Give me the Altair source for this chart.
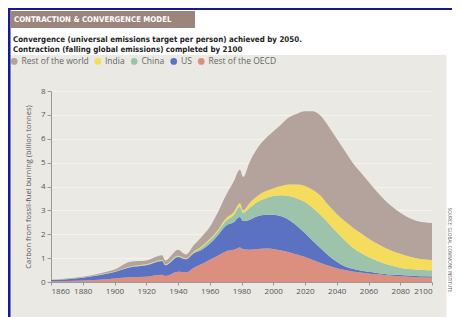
import altair as alt
import pandas as pd

years = [1860,1870,1880,1890,1900,1910,1920,1930,1932,1940,1945,1950,1955,1960,1965,1970,1975,1979,1981,1985,
         1990,1995,2000,2005,2010,2015,2020,2025,2030,2035,2040,2045,2050,2055,2060,2065,2070,2075,2080,2085,2090,2095,2100]
rest_oecd = [.03,.04,.06,.09,.15,.20,.22,.30,.25,.43,.40,.60,.75,.93,1.10,1.28,1.35,1.45,1.38,1.35,
             1.38,1.40,1.38,1.32,1.25,1.15,1.05,.92,.80,.68,.58,.50,.44,.40,.36,.32,.29,.26,.24,.22,.20,.19,.18]
us = [.05,.08,.12,.19,.27,.42,.48,.58,.45,.62,.55,.60,.60,.67,.85,1.07,1.15,1.27,1.17,1.25,
      1.37,1.42,1.44,1.43,1.35,1.20,1.00,.80,.60,.42,.27,.16,.11,.08,.07,.06,.05,.05,.05,.05,.05,.05,.05]
china = [.005,.005,.005,.01,.01,.02,.02,.02,.02,.03,.02,.05,.10,.15,.15,.20,.30,.43,.35,.50,
         .60,.68,.78,.88,1.00,1.15,1.30,1.38,1.40,1.35,1.23,1.09,.90,.74,.62,.52,.44,.37,.31,.28,.27,.26,.26]
india = [.005,.005,.005,.01,.01,.01,.02,.02,.02,.02,.02,.03,.05,.05,.07,.10,.12,.15,.10,.20,
         .25,.30,.32,.39,.48,.58,.67,.75,.80,.75,.77,.80,.83,.83,.77,.72,.67,.62,.58,.53,.48,.45,.43]
rest_world = [.01,.02,.03,.05,.08,.20,.16,.20,.16,.25,.16,.27,.40,.50,.73,.95,1.28,1.40,1.40,1.70,
              2.00,2.20,2.38,2.58,2.82,2.97,3.13,3.30,3.35,3.30,3.15,2.95,2.72,2.55,2.38,2.18,2.00,1.85,1.72,1.62,1.57,1.55,1.55]

legend_order = ["Rest of the world", "India", "China", "US", "Rest of the OECD"]
colors = ["#b4a39c", "#f6dc5c", "#9dc4aa", "#5b72c2", "#dc8f7f"]
series = {"Rest of the OECD": rest_oecd, "US": us, "China": china, "India": india, "Rest of the world": rest_world}
stack_rank = {"Rest of the OECD": 1, "US": 2, "China": 3, "India": 4, "Rest of the world": 5}

x_ticks = list(range(1860, 2101, 20))
y_ticks = list(range(0, 9))

title_text = "CONTRACTION & CONVERGENCE MODEL"
subtitle_lines = ["Convergence (universal emissions target per person) achieved by 2050.",
                  "Contraction (falling global emissions) completed by 2100"]
y_title = "Carbon from fossil-fuel burning (billion tonnes)"
source_text = "SOURCE: GLOBAL COMMONS INSTITUTE"

rows = []
for name, vals in series.items():
    for yr, v in zip(years, vals):
        rows.append({"year": yr, "value": v, "region": name, "rank": stack_rank[name]})
df = pd.DataFrame(rows)

W, H = 381, 191
one = pd.DataFrame({"a": [0]})

areas = alt.Chart(df).mark_area(interpolate="monotone").encode(
    x=alt.X("year:Q", scale=alt.Scale(domain=[1860, 2100], nice=False),
            axis=alt.Axis(values=x_ticks, format="d", title=None, grid=False,
                          labelFontSize=8, labelColor="#555", labelFont="Open Sans",
                          tickSize=3, tickColor="#999", domainColor="#999", labelPadding=2)),
    y=alt.Y("value:Q", stack="zero", scale=alt.Scale(domain=[0, 8], nice=False),
            axis=alt.Axis(values=y_ticks, title=y_title, titleFontSize=7.5, titleFontWeight="normal",
                          titleColor="#555", titleFont="Open Sans", titlePadding=8,
                          labelFontSize=8, labelColor="#555", labelFont="Open Sans",
                          tickSize=4, tickColor="#999", domainColor="#999", labelPadding=2,
                          grid=True, gridColor="#f5f3ef", gridWidth=1.2)),
    color=alt.Color("region:N", scale=alt.Scale(domain=legend_order, range=colors),
                    legend=alt.Legend(orient="none", direction="horizontal", legendX=-41, legendY=-34,
                                      title=None, symbolType="circle", symbolSize=45,
                                      symbolStrokeWidth=0, labelFontSize=8.5, labelColor="#666",
                                      labelFont="Open Sans", columnPadding=4.5, labelOffset=3,
                                      labelLimit=200)),
    order=alt.Order("rank:Q", sort="ascending"),
)

def rect(x1, x2, y1, y2, color):
    # decorative panels, positioned relative to plot origin (page 51, 91)
    return alt.Chart(one).mark_rect(color=color).encode(
        x=alt.value(x1 - 51), x2=alt.value(x2 - 51), y=alt.value(y1 - 91), y2=alt.value(y2 - 91))

def text(t, x, y, size, weight="normal", color="#222", font="Open Sans", angle=0, align="left"):
    return alt.Chart(one).mark_text(text=t, fontSize=size, fontWeight=weight, color=color, font=font,
                                    align=align, baseline="middle", angle=angle).encode(
        x=alt.value(x - 51), y=alt.value(y - 91))

deco = [
    rect(0, 470, 0, 55, "#ffffff"),
    rect(446.5, 470, 0, 330, "#ffffff"),
    rect(8, 10.5, 0, 330, "#141c8c"),
    rect(8, 452, 8, 10, "#141c8c"),
    rect(10.5, 195, 11, 28, "#9c857c"),
    text(title_text, 14, 19.5, 7.8, "bold", "#ffffff", "DejaVu Sans Condensed"),
    text(subtitle_lines[0], 13, 40, 7.9, "bold", "#1e1e1e", "DejaVu Sans Condensed"),
    text(subtitle_lines[1], 13, 50, 7.9, "bold", "#1e1e1e", "DejaVu Sans Condensed"),
    text(source_text, 449, 250, 4.5, "normal", "#555", "Open Sans", angle=90, align="center"),
]

chart = alt.layer(*deco, areas).properties(
    width=W, height=H,
    autosize=alt.AutoSizeParams(type="none"),
    padding={"left": 43, "top": 83, "right": 20, "bottom": 35},
).configure(background="#ebe9e4").configure_view(stroke=None)

chart.save("out.html", embed_options={"renderer": "svg", "actions": False})
